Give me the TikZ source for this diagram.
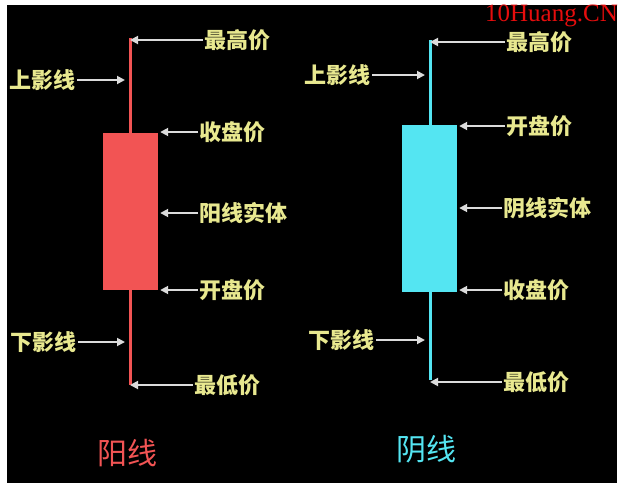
\documentclass[tikz,border=0pt]{standalone}
\usepackage{fontspec}
\newfontfamily\cjk{Noto Sans CJK SC}
\newfontfamily\markfont{Liberation Serif}
\usetikzlibrary{arrows.meta}
\definecolor{lbl-yellow}{rgb}{0.91,0.91,0.56}
\definecolor{arr-gray}{rgb}{0.86,0.86,0.86}
\definecolor{yang-red}{rgb}{0.95,0.33,0.33}
\definecolor{yin-cyan}{rgb}{0.33,0.90,0.95}
\definecolor{mark-red}{rgb}{0.90,0.05,0.05}
\tikzset{
  lbl/.style={text=lbl-yellow, font=\cjk\bfseries\fontsize{22}{22}\selectfont, inner sep=1pt},
  arr/.style={draw=arr-gray, line width=1.8pt, -{Triangle[length=8pt,width=8pt]}},
  wick/.style={line width=3pt},
  body/.style={draw=none, minimum width=55pt, inner sep=0pt},
  title/.style={font=\cjk\fontsize{30}{30}\selectfont, inner sep=0pt}
}
\begin{document}
\begin{tikzpicture}[x=1pt, y=-1pt]
    \useasboundingbox (0,0) rectangle (621,490);
    \fill[white] (0,0) rectangle (621,490);
    \fill[black] (7,5) rectangle (617,483);
    \node[text=mark-red, font=\markfont\fontsize{25}{25}\selectfont, anchor=north east, inner sep=0pt]
      (mark) at (618,5) {10Huang.CN};
    \begin{scope}
      \coordinate (yhigh) at (130,38);
      \coordinate (ylow) at (130,385);
      \draw[wick, color=yang-red] (yhigh) -- (ylow);
      \node[body, fill=yang-red, minimum height=157pt] (ybody) at (130.5,211.5) {};
      \node[lbl, anchor=west] (yhighlbl)  at (203,40)  {最高价};
      \node[lbl, anchor=east] (yupperlbl) at (77,80)   {上影线};
      \node[lbl, anchor=west] (ycloselbl) at (198,132) {收盘价};
      \node[lbl, anchor=west] (ybodylbl)  at (198,213) {阳线实体};
      \node[lbl, anchor=west] (yopenlbl)  at (198,290) {开盘价};
      \node[lbl, anchor=east] (ylowerlbl) at (78,342)  {下影线};
      \node[lbl, anchor=west] (ylowlbl)   at (193,385) {最低价};
      \draw[arr] (yhighlbl.west)  -- (yhighlbl.west -| yhigh);
      \draw[arr, shorten >=5pt] (yupperlbl.east) -- (yupperlbl.east -| yhigh);
      \draw[arr, shorten >=2pt] (ycloselbl.west) -- (ycloselbl.west -| ybody.east);
      \draw[arr, shorten >=2pt] (ybodylbl.west)  -- (ybodylbl.west -| ybody.east);
      \draw[arr, shorten >=2pt] (yopenlbl.west)  -- (yopenlbl.west -| ybody.east);
      \draw[arr, shorten >=5pt] (ylowerlbl.east) -- (ylowerlbl.east -| ylow);
      \draw[arr] (ylowlbl.west)   -- (ylowlbl.west -| ylow);
      \node[title, text=yang-red] (yangname) at (127,453) {阳线};
    \end{scope}
    \begin{scope}
      \coordinate (nhigh) at (430,40);
      \coordinate (nlow) at (430,380);
      \draw[wick, color=yin-cyan] (nhigh) -- (nlow);
      \node[body, fill=yin-cyan, minimum height=167pt] (nbody) at (429.5,208.5) {};
      \node[lbl, anchor=west] (nhighlbl)  at (505,42)  {最高价};
      \node[lbl, anchor=east] (nupperlbl) at (372,75)  {上影线};
      \node[lbl, anchor=west] (nopenlbl)  at (505,126) {开盘价};
      \node[lbl, anchor=west] (nbodylbl)  at (502,208) {阴线实体};
      \node[lbl, anchor=west] (ncloselbl) at (502,290) {收盘价};
      \node[lbl, anchor=east] (nlowerlbl) at (376,340) {下影线};
      \node[lbl, anchor=west] (nlowlbl)   at (502,382) {最低价};
      \draw[arr] (nhighlbl.west)  -- (nhighlbl.west -| nhigh);
      \draw[arr, shorten >=5pt] (nupperlbl.east) -- (nupperlbl.east -| nhigh);
      \draw[arr, shorten >=2pt] (nopenlbl.west)  -- (nopenlbl.west -| nbody.east);
      \draw[arr, shorten >=2pt] (nbodylbl.west)  -- (nbodylbl.west -| nbody.east);
      \draw[arr, shorten >=2pt] (ncloselbl.west) -- (ncloselbl.west -| nbody.east);
      \draw[arr, shorten >=5pt] (nlowerlbl.east) -- (nlowerlbl.east -| nlow);
      \draw[arr] (nlowlbl.west)   -- (nlowlbl.west -| nlow);
      \node[title, text=yin-cyan] (yinname) at (426,449) {阴线};
    \end{scope}
\end{tikzpicture}
\end{document}
